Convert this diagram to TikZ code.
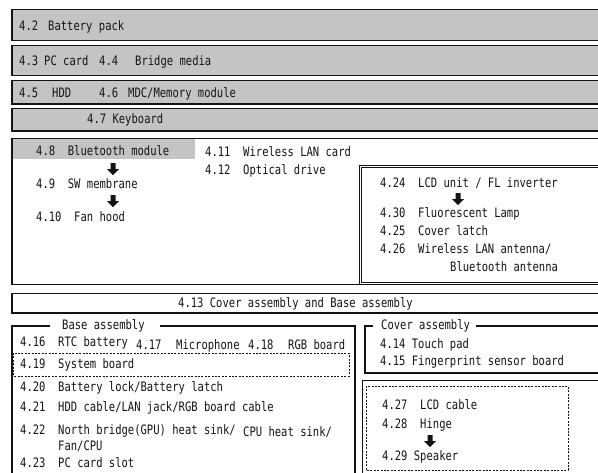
\documentclass[tikz,border=0pt]{standalone}
\usepackage{fontspec}
\setmainfont{DejaVu Sans Mono}[FakeStretch=0.81]
\definecolor{boxgray}{RGB}{196,196,196}
\definecolor{ink}{RGB}{20,20,20}
\tikzset{
  graybox/.style={fill=boxgray, draw=ink, line width=1.3pt},
  whitebox/.style={fill=white, draw=ink, line width=1.3pt},
  dblline/.style={draw=ink, double=white, double distance=1.4pt, line width=0.8pt},
  dotbox/.style={draw=ink, line width=1pt, dash pattern=on 2pt off 1.4pt},
  framel/.style={draw=ink, line width=1.1pt},
  lbl/.style={anchor=base west, inner sep=0pt, text=ink, font=\fontsize{13}{15}\selectfont},
  downarr/.pic={\fill[ink] (-2.5,-6) -- (2.5,-6) -- (2.5,0) -- (6,0) -- (0,6) -- (-6,0) -- (-2.5,0) -- cycle;}
}
\begin{document}
\begin{tikzpicture}[x=1pt,y=-1pt]
\useasboundingbox (0,0) rectangle (598,472);
\clip (0,0) rectangle (598,472);
\fill[white] (0,0) rectangle (598,472);
% top grey bars
\draw[graybox] (12,9.6) rectangle (640,40.4);
\draw[graybox] (12,45.6) rectangle (640,75.6);
\draw[graybox] (12,80.6) rectangle (640,104);
\draw[graybox] (12,108.6) rectangle (640,131);
% large white box
\draw[whitebox] (12,138.3) rectangle (640,284.5);
\fill[boxgray] (12.7,139) rectangle (195,159);
% LCD box
\draw[dblline] (360.5,166.5) rectangle (640,283.5);
% 4.13 box
\draw[whitebox] (12,293.6) rectangle (640,313);
% base assembly frame
\draw[framel] (50,326) -- (12,326) -- (12,480);
\draw[framel] (160,326) -- (355,326) -- (355,480);
% cover assembly frame
\draw[framel] (373,326) -- (365,326) -- (365,373) -- (640,373);
\draw[framel] (476,326) -- (640,326);
% lower right double box
\draw[dblline] (361,480) -- (361,379) -- (640,379);
% dotted boxes
\draw[dotbox] (366,386) rectangle (568,470);
\draw[dotbox] (13.5,353) rectangle (349,376);

% texts
\node[lbl] (n42) at (19,30.5) {4.2};
\node[lbl] (s42) at (48,30.5) {Battery pack};
\node[lbl] (n43) at (19,65.5) {4.3};
\node[lbl] (s43) at (44,65.5) {PC card};
\node[lbl] (n44) at (99,65.5) {4.4};
\node[lbl] (s44) at (135,65.5) {Bridge media};
\node[lbl] (n45) at (19,97.5) {4.5};
\node[lbl] (s45) at (52,97.5) {HDD};
\node[lbl] (n46) at (99,97.5) {4.6};
\node[lbl] (s46) at (128,97.5) {MDC/Memory module};
\node[lbl] (k47) at (87,123.5) {4.7 Keyboard};

\node[lbl] (t48) at (36,155.5) {4.8\ \ Bluetooth module};
\node[lbl] (t49) at (36,188.5) {4.9\ \ SW membrane};
\node[lbl] (t410) at (36,221.5) {4.10\ \ Fan hood};
\node[lbl] (t411) at (205,156.5) {4.11\ \ Wireless LAN card};
\node[lbl] (t412) at (205,174.5) {4.12\ \ Optical drive};
\pic at (113,169) {downarr};
\pic at (113,201) {downarr};

\node[lbl] (t424) at (380,187.5) {4.24\ \ LCD unit / FL inverter};
\pic at (458,199) {downarr};
\node[lbl] (t430) at (380,217.5) {4.30\ \ Fluorescent Lamp};
\node[lbl] (t425) at (380,235.5) {4.25\ \ Cover latch};
\node[lbl] (t426) at (380,253.5) {4.26\ \ Wireless LAN antenna/};
\node[lbl] (t426b) at (450,271.5) {Bluetooth antenna};

\node[lbl] (t413) at (178,307.5) {4.13 Cover assembly and Base assembly};

\node[lbl] (basettl) at (62,329.5) {Base assembly};
\node[lbl] (covttl) at (381,329.5) {Cover assembly};

\node[lbl] (t416) at (20,346.5) {4.16\ \ RTC battery};
\node[lbl] (n417) at (136,349.5) {4.17};
\node[lbl] (s417) at (176,349.5) {Microphone};
\node[lbl] (n418) at (248,349.5) {4.18};
\node[lbl] (s418) at (288,349.5) {RGB board};
\node[lbl] (t419) at (20,368.5) {4.19\ \ System board};
\node[lbl] (t420) at (20,391.5) {4.20\ \ Battery lock/Battery latch};
\node[lbl] (t421) at (20,411.5) {4.21\ \ HDD cable/LAN jack/RGB board cable};
\node[lbl] (t422) at (20,434.5) {4.22\ \ North bridge(GPU) heat sink/};
\node[lbl] (t422c) at (243,436.5) {CPU heat sink/};
\node[lbl] (t422b) at (58,450.5) {Fan/CPU};
\node[lbl] (t423) at (20,467.5) {4.23\ \ PC card slot};

\node[lbl] (t414) at (380,348.5) {4.14 Touch pad};
\node[lbl] (t415) at (380,365.5) {4.15 Fingerprint sensor board};

\node[lbl] (t427) at (382,409.5) {4.27\ \ LCD cable};
\node[lbl] (t428) at (382,428.5) {4.28\ \ Hinge};
\pic at (430,441) {downarr};
\node[lbl] (t429) at (382,460.5) {4.29 Speaker};
\end{tikzpicture}
\end{document}
